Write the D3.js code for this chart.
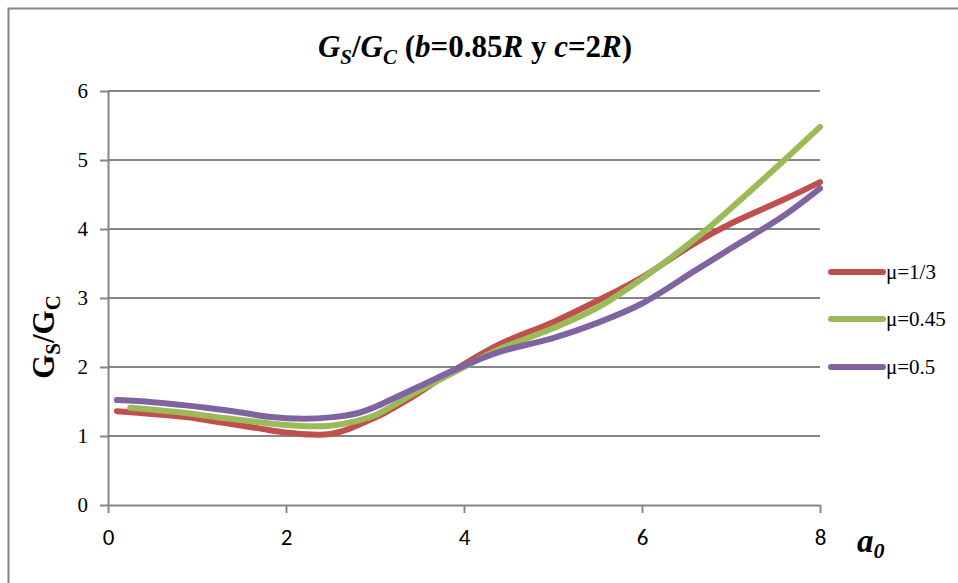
<!DOCTYPE html>
<html><head><meta charset="utf-8">
<script src="https://cdn.jsdelivr.net/npm/d3@7"></script>
<style>body{margin:0;background:#fff}svg{display:block}</style>
</head><body>
<svg id="c" width="958" height="583"></svg>
<script>
const seriesNames = ["μ=1/3", "μ=0.45", "μ=0.5"];
const seriesColors = ["#C0504D", "#9BBB59", "#8064A2"];
const redX = [0.1,0.5,0.9,1.3,1.7,2.0,2.3,2.5,2.7,2.9,3.1,3.4,3.7,4.0,4.4,5.0,5.5,6.0,6.6,7.0,7.6,8.0];
const redY = [1.36,1.32,1.27,1.19,1.11,1.05,1.02,1.03,1.1,1.21,1.33,1.55,1.8,2.04,2.33,2.65,2.96,3.3,3.8,4.08,4.43,4.68];
const greenX = [0.25,0.6,0.9,1.3,1.7,2.0,2.3,2.5,2.8,3.0,3.2,3.5,4.0,4.4,5.0,5.5,6.0,6.6,7.0,7.6,8.0];
const greenY = [1.41,1.37,1.33,1.26,1.2,1.16,1.14,1.15,1.22,1.3,1.44,1.66,2.0,2.26,2.56,2.86,3.28,3.86,4.3,5.0,5.48];
const purpleX = [0.1,0.5,0.9,1.1,1.5,1.8,2.2,2.5,2.8,3.0,3.2,3.5,4.0,4.4,5.0,5.5,6.0,6.6,7.0,7.6,8.0];
const purpleY = [1.52,1.49,1.44,1.41,1.34,1.28,1.25,1.27,1.33,1.42,1.54,1.72,2.02,2.22,2.42,2.64,2.92,3.4,3.72,4.2,4.59];
const xTicks = [0,2,4,6,8];
const yTicks = [0,1,2,3,4,5,6];

const SERIF = '"Liberation Serif", "Times New Roman", serif';
const SANS = 'Carlito, "Liberation Sans", sans-serif';
const svg = d3.select("#c");
const axisColor = "#868686";
svg.append("rect").attr("x",8.5).attr("y",8.5).attr("width",1200).attr("height",1200)
  .attr("fill","none").attr("stroke",axisColor).attr("stroke-width",2);

const x = d3.scaleLinear().domain([0,8]).range([108,820]);
const y = d3.scaleLinear().domain([0,6]).range([505,91]);

// gridlines
svg.append("g").selectAll("line").data(yTicks.filter(d=>d>0)).join("line")
  .attr("x1",x(0)).attr("x2",x(8)).attr("y1",d=>y(d)).attr("y2",d=>y(d))
  .attr("stroke",axisColor).attr("stroke-width",2);

// y axis
const ya = svg.append("g").attr("transform",`translate(${x(0)},0)`)
  .call(d3.axisLeft(y).tickValues(yTicks).tickFormat(d3.format("d")).tickSize(8).tickSizeOuter(0).tickPadding(12));
ya.attr("font-family",null).attr("font-size",null);
ya.select(".domain").attr("stroke",axisColor).attr("stroke-width",2);
ya.selectAll(".tick line").attr("stroke",axisColor).attr("stroke-width",2);
ya.selectAll(".tick text").style("font-family",SERIF).style("font-size","21px").attr("fill","#000");

// x axis
const xa = svg.append("g").attr("transform",`translate(0,${y(0)})`)
  .call(d3.axisBottom(x).tickValues(xTicks).tickFormat(d3.format("d")).tickSize(8).tickSizeOuter(0).tickPadding(16));
xa.attr("font-family",null).attr("font-size",null);
xa.select(".domain").attr("stroke",axisColor).attr("stroke-width",2);
xa.selectAll(".tick line").attr("stroke",axisColor).attr("stroke-width",2);
xa.selectAll(".tick text").style("font-family",SANS).style("font-size","23px").attr("fill","#000");

// lines
const series = [d3.zip(redX,redY), d3.zip(greenX,greenY), d3.zip(purpleX,purpleY)];
const line = d3.line().x(d=>x(d[0])).y(d=>y(d[1])).curve(d3.curveCatmullRom.alpha(0.5));
series.forEach((s,i)=>{
  svg.append("path").attr("d",line(s)).attr("fill","none")
    .attr("stroke",seriesColors[i]).attr("stroke-width",6).attr("stroke-linecap","round").attr("stroke-linejoin","round");
});

// legend
const legY = [272,319,367];
seriesNames.forEach((n,i)=>{
  svg.append("line").attr("x1",831).attr("x2",883).attr("y1",legY[i]).attr("y2",legY[i])
    .attr("stroke",seriesColors[i]).attr("stroke-width",6).attr("stroke-linecap","round");
  svg.append("text").attr("x",886).attr("y",legY[i]+7).text(n)
    .style("font-family",SERIF).style("font-size","21px").attr("fill","#000");
});

// title
const t = svg.append("text").attr("x",475).attr("y",57).attr("text-anchor","middle")
  .style("font-family",SERIF).style("font-size","31px").attr("font-weight","bold").attr("fill","#000");
t.append("tspan").attr("font-style","italic").text("G");
t.append("tspan").attr("font-style","italic").style("font-size","21px").attr("dy",7).text("S");
t.append("tspan").attr("dy",-7).text("/");
t.append("tspan").attr("font-style","italic").text("G");
t.append("tspan").attr("font-style","italic").style("font-size","21px").attr("dy",7).text("C");
t.append("tspan").attr("dy",-7).text(" (");
t.append("tspan").attr("font-style","italic").text("b");
t.append("tspan").text("=0.85");
t.append("tspan").attr("font-style","italic").text("R");
t.append("tspan").text(" y ");
t.append("tspan").attr("font-style","italic").text("c");
t.append("tspan").text("=2");
t.append("tspan").attr("font-style","italic").text("R");
t.append("tspan").text(")");

// y label
const yl = svg.append("text").attr("transform","translate(54,337) rotate(-90)").attr("text-anchor","middle")
  .style("font-family",SERIF).style("font-size","31px").attr("font-weight","bold").attr("fill","#000");
yl.append("tspan").text("G");
yl.append("tspan").style("font-size","21px").attr("dy",6).text("S");
yl.append("tspan").attr("dy",-6).text("/G");
yl.append("tspan").style("font-size","21px").attr("dy",6).text("C");

// x label
const xl = svg.append("text").attr("x",857).attr("y",552)
  .style("font-family",SERIF).style("font-size","33px").attr("font-weight","bold").attr("font-style","italic").attr("fill","#000");
xl.append("tspan").text("a");
xl.append("tspan").style("font-size","22px").attr("dy",6).text("0");
</script>
</body></html>
